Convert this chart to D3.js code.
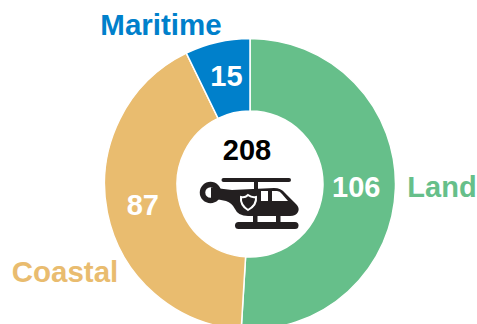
<!DOCTYPE html>
<html><head><meta charset="utf-8">
<script src="https://cdn.jsdelivr.net/npm/d3@7"></script>
<style>html,body{margin:0;padding:0;background:#fff}svg{display:block}text{font-family:"Liberation Sans",Arial,sans-serif;font-weight:700}</style>
</head><body><svg id="c" width="477" height="324"></svg>
<script>
const categories = ["Land","Coastal","Maritime"];
const values = [106,87,15];
const colors = ["#66BF8A","#E9BC6F","#0080CB"];
const total = "208";
const labelPos = [[442,187,"middle"],[65,272,"middle"],[161,25,"middle"]];
const labelSize = [29,29.5,29.5];
const nudge = [[-3,0],[0,0],[1,-2]];
const svg = d3.select("#c");
const cx=250, cy=184, R=145.5, r=73;
const g = svg.append("g").attr("transform",`translate(${cx},${cy})`);
const pie = d3.pie().sort(null)(values);
const arc = d3.arc().innerRadius(r).outerRadius(R);
g.selectAll("path").data(pie).join("path").attr("d",arc)
  .attr("fill",(d,i)=>colors[i]).attr("stroke","#fff").attr("stroke-width",1.5);
g.selectAll("text.v").data(pie).join("text").attr("class","v")
  .attr("x",(d,i)=>arc.centroid(d)[0]+nudge[i][0]).attr("y",(d,i)=>arc.centroid(d)[1]+10+nudge[i][1])
  .attr("text-anchor","middle").attr("font-size",29).attr("fill","#fff")
  .text(d=>d.data);
svg.selectAll("text.c").data(categories).join("text").attr("class","c")
  .attr("x",(d,i)=>labelPos[i][0]).attr("y",(d,i)=>labelPos[i][1]+10)
  .attr("text-anchor",(d,i)=>labelPos[i][2]).attr("font-size",(d,i)=>labelSize[i]).attr("fill",(d,i)=>colors[i])
  .text(d=>d);
svg.append("text").attr("x",247).attr("y",160).attr("text-anchor","middle").attr("font-size",29).attr("fill","#000").text(total);
const ic = svg.append("g").attr("fill","#231F20");
ic.append("rect").attr("x",221.500).attr("y",178).attr("width",69.500).attr("height",4).attr("rx",2);
ic.append("rect").attr("x",254).attr("y",180).attr("width",4).attr("height",11);
ic.append("circle").attr("cx",210.500).attr("cy",192.500).attr("r",8).attr("fill","none").attr("stroke","#231F20").attr("stroke-width",5.500);
ic.append("path").attr("d","M211 187.500 L232 190 L274 188 Q281 188 285 193 L296 204 Q300 208 298 212 Q296 216 290 216 L248 216 Q238 216 235 209 Q232 203 226 201 L211 198 Z");
ic.append("rect").attr("x",235).attr("y",222).attr("width",63.500).attr("height",7).attr("rx",3.500);
ic.append("rect").attr("x",253).attr("y",215).attr("width",4.500).attr("height",8);
ic.append("rect").attr("x",276).attr("y",215).attr("width",4.500).attr("height",8);
ic.append("path").attr("fill","#fff").attr("d","M261 191 H268 V201 H261 Z M272 191 H277 Q280 191 282 194 L288 201 H272 Z");
ic.append("path").attr("fill","#231F20").attr("stroke","#fff").attr("stroke-width",2).attr("d","M248 195 Q252 198 256 197 Q257 205 248 210 Q240 205 241 197 Q245 198 248 195 Z");
</script></body></html>
